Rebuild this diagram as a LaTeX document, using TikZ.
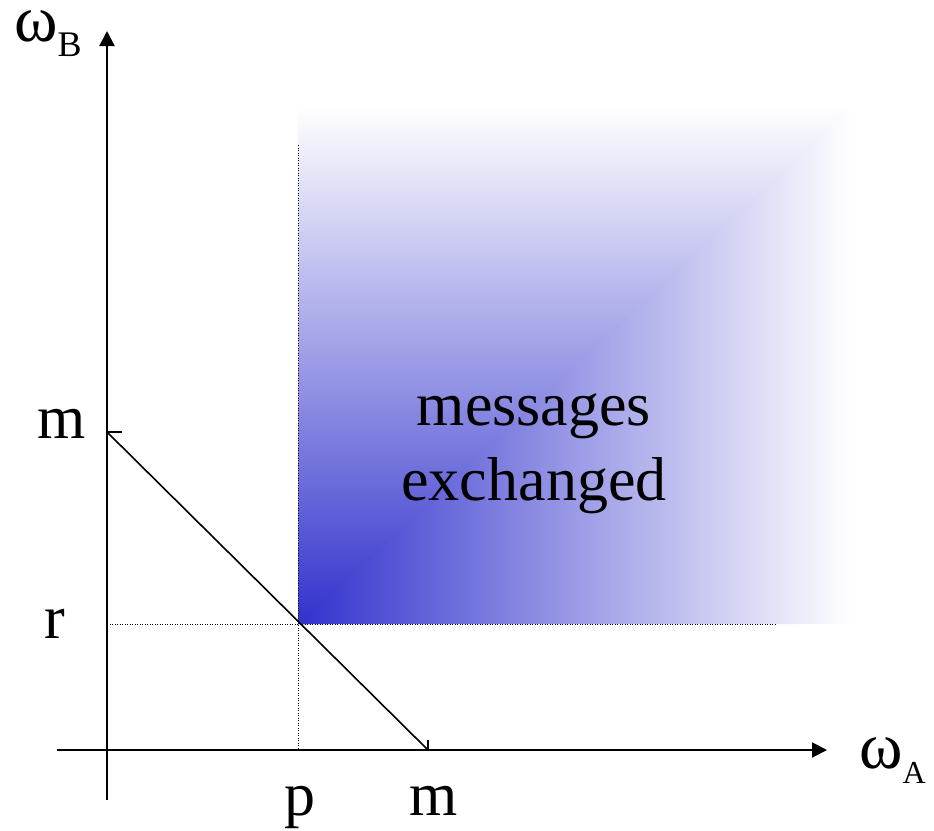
\documentclass[tikz,border=0pt]{standalone}
\usepackage{fontspec}
\setmainfont{Liberation Serif}
\usetikzlibrary{arrows.meta}
\definecolor{cornerblue}{RGB}{50,50,205}
\colorlet{fadeMid}{cornerblue!47!white}
\pgfdeclareverticalshading{vfade}{100bp}{color(0bp)=(cornerblue); color(25bp)=(cornerblue); color(50bp)=(fadeMid); color(73bp)=(white); color(100bp)=(white)}
\pgfdeclarehorizontalshading{hfade}{100bp}{color(0bp)=(cornerblue); color(25bp)=(cornerblue); color(50bp)=(fadeMid); color(73bp)=(white); color(100bp)=(white)}
\begin{document}
\begin{tikzpicture}[x=1pt,y=-1pt,
  axis/.style={line width=2pt,-{Triangle[length=15pt,width=15pt]}},
  guide/.style={line width=1pt,dash pattern=on 1pt off 1.5pt},
  solidline/.style={line width=1.6pt},
  lbl/.style={inner sep=0pt,font=\fontsize{62}{72}\selectfont}]
\useasboundingbox (0,0) rectangle (934,830);
% shaded region: vertical fade above the diagonal, horizontal fade below it
\path[shading=vfade] (298,624) -- (298,85) -- (875,85) -- (875,95) -- (308,624) -- cycle;
\path[shading=hfade] (298,624) -- (875,624) -- (875,85) -- cycle;
% coordinates
\coordinate (ytop) at (107,31);
\coordinate (ybot) at (107,800);
\coordinate (xl) at (57,750);
\coordinate (xr) at (827,750);
\coordinate (mB) at (107,432);
\coordinate (mBt) at (122,432);
\coordinate (mA) at (428,750);
\coordinate (mAt) at (428,740);
\coordinate (ptop) at (298,145);
\coordinate (pbot) at (298,750);
\coordinate (rl) at (107,624);
\coordinate (rr) at (776,624);
% guides
\draw[guide] (ptop) -- (pbot);
\draw[guide] (rl) -- (rr);
% axes
\draw[axis] (ybot) -- (ytop);
\draw[axis] (xl) -- (xr);
% line and ticks
\draw[solidline] (mB) -- (mA);
\draw[solidline] (mB) -- (mBt);
\draw[solidline] (mA) -- (mAt);
% labels
\node[lbl,anchor=base west] (wB) at (14,41) {\fontsize{66}{72}\selectfont ω\raisebox{-15pt}{\fontsize{36}{40}\selectfont B}};
\node[lbl,anchor=base west] (wA) at (859,768) {\fontsize{66}{72}\selectfont ω\raisebox{-15pt}{\fontsize{32}{36}\selectfont A}};
\node[lbl,anchor=base] (lm) at (62,438) {m};
\node[lbl,anchor=base] (lr) at (55,638) {r};
\node[lbl,anchor=base] (lp) at (300,815) {p};
\node[lbl,anchor=base] (lm2) at (434,815) {m};
\node[lbl,anchor=base] (t1) at (534,425) {messages};
\node[lbl,anchor=base] (t2) at (534,500) {exchanged};
\end{tikzpicture}
\end{document}
